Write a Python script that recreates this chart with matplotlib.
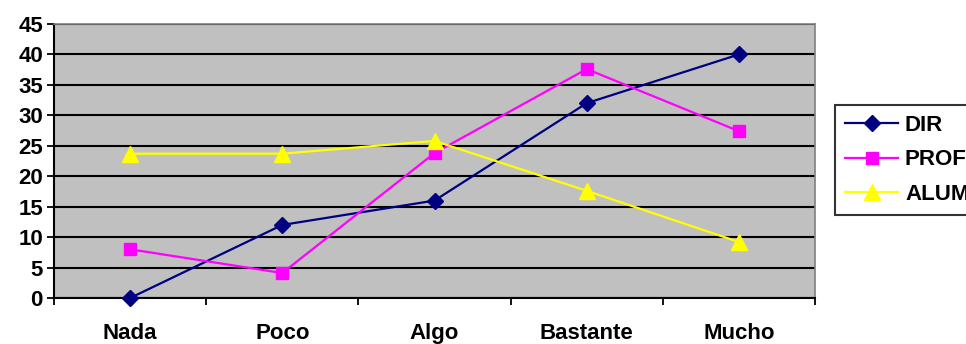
import matplotlib
matplotlib.use("Agg")
import matplotlib.pyplot as plt
import numpy as np

categories = ["Nada", "Poco", "Algo", "Bastante", "Mucho"]
dir_vals = [0, 12, 16, 32, 40]
prof_vals = [8, 4.1, 23.8, 37.6, 27.4]
alum_vals = [23.7, 23.7, 25.8, 17.6, 9.2]
y_ticks = [0, 5, 10, 15, 20, 25, 30, 35, 40, 45]

plt.rcParams['font.family'] = ['Liberation Sans', 'DejaVu Sans']
plt.rcParams['font.weight'] = 'bold'

W, H = 966, 344
fig = plt.figure(figsize=(W / 100, H / 100), dpi=100)
ax = fig.add_axes([54 / W, (H - 298) / H, (815 - 54) / W, (298 - 24) / H])
ax.set_facecolor("#c0c0c0")

x = np.arange(len(categories))
ax.plot(x, dir_vals, color="#000080", lw=1.6, marker="D", ms=8.5,
        label="DIR", clip_on=False, zorder=4)
ax.plot(x, prof_vals, color="#ff00ff", lw=1.6, marker="s", ms=9,
        label="PROF", clip_on=False, zorder=4)
ax.plot(x, alum_vals, color="#ffff00", lw=1.6, marker="^", ms=11,
        label="ALUM", clip_on=False, zorder=4)

ax.set_xlim(-0.5, len(categories) - 0.5)
ax.set_ylim(0, 45)
ax.set_yticks(y_ticks)
ax.set_yticklabels([str(v) for v in y_ticks], fontsize=16, fontweight="bold")
ax.yaxis.grid(True, color="black", lw=1.5)
ax.set_axisbelow(True)

ax.set_xticks(x)
ax.set_xticklabels(categories, fontsize=16, fontweight="bold")
ax.set_xticks(np.arange(-0.5, len(categories), 1), minor=True)
ax.tick_params(axis="x", which="major", length=0, pad=18)
ax.tick_params(axis="x", which="minor", length=5, width=1.3, color="black")
ax.tick_params(axis="y", length=5, width=1.3, color="black", pad=3)

for side in ("top", "right"):
    ax.spines[side].set_color("#808080")
    ax.spines[side].set_linewidth(1.2)
for side in ("left", "bottom"):
    ax.spines[side].set_color("black")
    ax.spines[side].set_linewidth(1.5)

leg = fig.legend(loc="upper left", bbox_to_anchor=(835 / W, 1 - 105 / H),
                 frameon=True, fancybox=False, edgecolor="black",
                 prop={"size": 16, "weight": "bold"}, handlelength=2.4,
                 borderpad=0.45, labelspacing=0.6, handletextpad=0.3,
                 borderaxespad=0)
leg.get_frame().set_linewidth(1.5)

fig.savefig("out.png", dpi=100, facecolor="white")
